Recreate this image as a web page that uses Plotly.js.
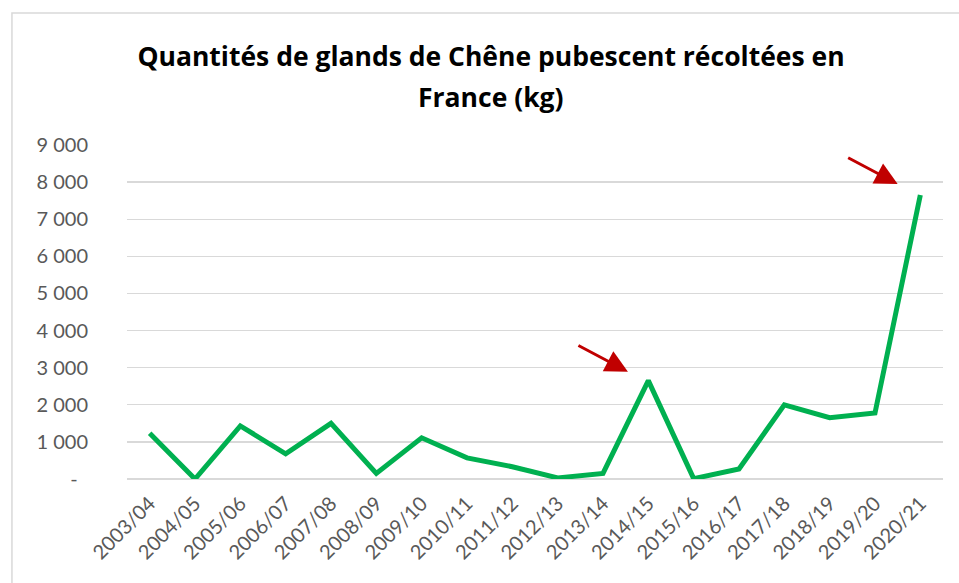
<!DOCTYPE html>
<html>
<head>
<meta charset="utf-8">
<script src="https://cdn.plot.ly/plotly-3.0.1.min.js"></script>
<style>html,body{margin:0;padding:0;background:#fff;}#chart{width:959px;height:583px;}</style>
</head>
<body>
<div id="chart"></div>
<script>
const seasons = ["2003/04","2004/05","2005/06","2006/07","2007/08","2008/09","2009/10","2010/11","2011/12","2012/13","2013/14","2014/15","2015/16","2016/17","2017/18","2018/19","2019/20","2020/21"];
const quantities = [1230, 0, 1430, 680, 1500, 150, 1110, 570, 330, 30, 150, 2650, 10, 270, 2000, 1650, 1780, 7650];
const yTickVals = [0,1000,2000,3000,4000,5000,6000,7000,8000,9000];
const yTickText = ["-\u00A0\u00A0","1 000","2 000","3 000","4 000","5 000","6 000","7 000","8 000","9 000"];
const titleLine1 = 'Quantités de glands de Chêne pubescent récoltées en';
const titleLine2 = 'France (kg)';
const arrowHeadX = [10.55, 16.5];
const arrowHeadY = [2890, 7950];

const trace = {
  x: seasons.map((s,i)=>i),
  y: quantities,
  type: 'scatter',
  mode: 'lines',
  line: {color: '#00B050', width: 5, shape: 'linear'},
  hoverinfo: 'skip',
  cliponaxis: false
};

const titleFont = {family: '"Open Sans", Lato, sans-serif', size: 26.5, color: '#000000'};

const annotations = arrowHeadX.map((x,i)=>({
  x: x, y: arrowHeadY[i], xref: 'x', yref: 'y',
  ax: -51, ay: -27, axref: 'pixel', ayref: 'pixel',
  showarrow: true, arrowhead: 2, arrowsize: 1.5, arrowwidth: 3,
  arrowcolor: '#C00000', text: ''
}));
annotations.push({
  text: '<b>' + titleLine2 + '</b>', showarrow: false,
  xref: 'paper', yref: 'paper', x: (491-127)/816, y: (479-97)/334,
  xanchor: 'center', yanchor: 'middle', font: titleFont
});

const layout = {
  width: 959, height: 583,
  margin: {l: 127, r: 16, t: 145, b: 104},
  paper_bgcolor: '#ffffff', plot_bgcolor: '#ffffff',
  font: {family: 'Lato, "Open Sans", sans-serif', color: '#595959'},
  title: {
    text: '<b>' + titleLine1 + '</b>',
    font: titleFont,
    x: 491/959, xanchor: 'center', y: 1 - 57/583, yanchor: 'middle', yref: 'container'
  },
  xaxis: {
    range: [-0.5, 17.5],
    tickmode: 'array', tickvals: seasons.map((s,i)=>i), ticktext: seasons,
    tickangle: -45, tickfont: {size: 20, color: '#595959'},
    showgrid: false, zeroline: false, showline: false, ticks: '',
    ticklabelstandoff: 8,
    fixedrange: true
  },
  yaxis: {
    range: [0, 9000],
    tickmode: 'array', tickvals: yTickVals, ticktext: yTickText,
    tickfont: {size: 20, color: '#595959'},
    showgrid: true, gridcolor: '#D9D9D9', gridwidth: 1.3,
    zeroline: true, zerolinecolor: '#D9D9D9', zerolinewidth: 1.3,
    showline: false, ticks: '', ticklabelstandoff: 38,
    fixedrange: true
  },
  shapes: [{
    type: 'rect', xref: 'paper', yref: 'paper',
    x0: -0.141, x1: 1.2, y0: -1, y1: 1.395,
    line: {color: '#D9D9D9', width: 1.5}, fillcolor: 'rgba(0,0,0,0)', layer: 'below'
  }],
  annotations: annotations,
  showlegend: false
};

Plotly.newPlot('chart', [trace], layout, {displayModeBar: false, staticPlot: true});
</script>
</body>
</html>
